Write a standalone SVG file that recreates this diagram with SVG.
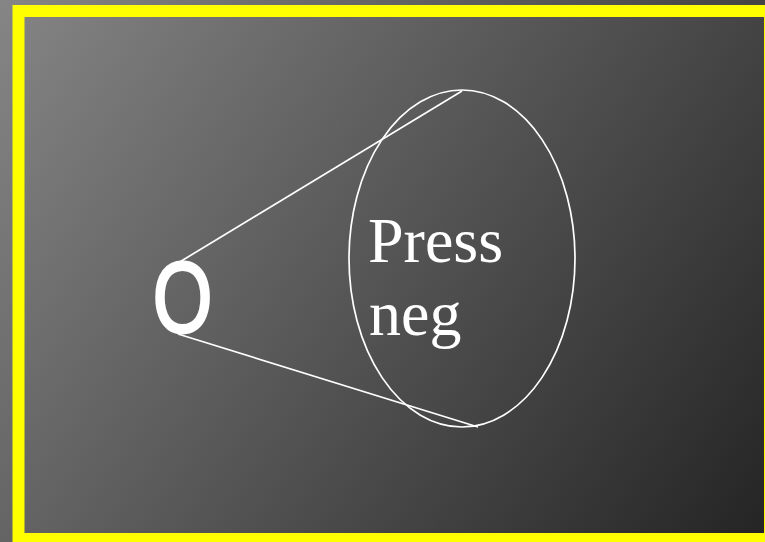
<svg xmlns="http://www.w3.org/2000/svg" width="765" height="542" viewBox="0 0 765 542">
  <defs>
    <linearGradient id="bg" x1="0" y1="0" x2="765" y2="542" gradientUnits="userSpaceOnUse">
      <stop offset="0" stop-color="#858585"/>
      <stop offset="1" stop-color="#242424"/>
    </linearGradient>
    <style>
      .ln { stroke: #ffffff; stroke-width: 1.7; fill: none; }
    </style>
  </defs>
  <rect x="0" y="0" width="765" height="542" fill="url(#bg)"/>
  <rect x="18.5" y="11" width="751.5" height="528" fill="none" stroke="#ffff00" stroke-width="12"/>
  <g id="connectors">
    <line class="ln" x1="178" y1="263" x2="462" y2="91"/>
    <line class="ln" x1="178" y1="334" x2="478" y2="427"/>
  </g>
  <g id="node-o">
    <text font-family="Liberation Sans, Arial, sans-serif" font-size="101" fill="#ffffff" stroke="#ffffff" stroke-width="2.8" text-anchor="middle" transform="translate(182.5,332) scale(0.76,1)" x="0" y="0">O</text>
  </g>
  <g id="node-press">
    <ellipse class="ln" cx="462" cy="258.5" rx="113" ry="168.5"/>
    <text font-family="Liberation Serif, Times New Roman, serif" font-size="64" fill="#ffffff" x="368" y="262">Press</text>
    <text font-family="Liberation Serif, Times New Roman, serif" font-size="64" fill="#ffffff" x="369" y="335">neg</text>
  </g>
</svg>
